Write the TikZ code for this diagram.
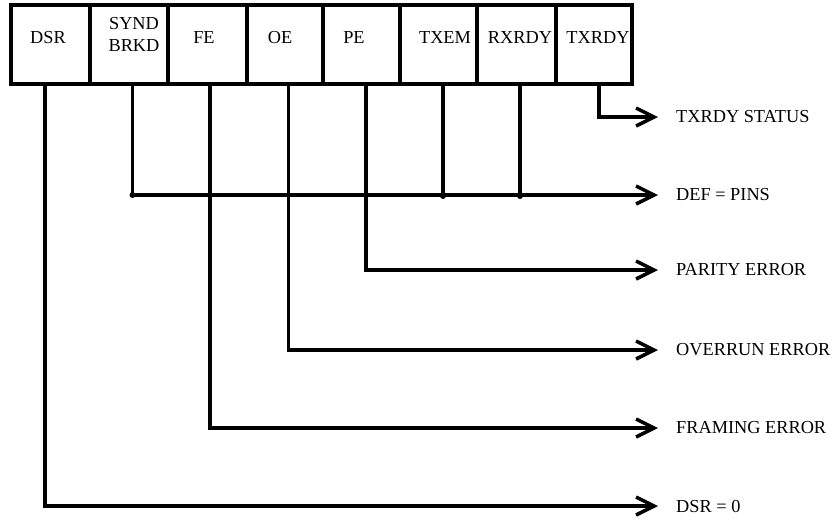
\documentclass[tikz,border=0pt]{standalone}
\usepackage{fontspec}
\setmainfont{Liberation Serif}
\usetikzlibrary{arrows.meta}
\begin{document}
\begin{tikzpicture}[x=1pt,y=-1pt,
  cell/.style={draw,line width=4pt,minimum width=#1,minimum height=79pt,inner sep=0pt,outer sep=0pt},
  celltext/.style={inner sep=0pt,align=center,font=\fontsize{18.3}{22}\selectfont},
  outlabel/.style={anchor=west,inner sep=0pt,font=\fontsize{18.3}{22}\selectfont},
  wire/.style={line width=3.5pt},
  flag/.style={wire,-{Straight Barb[length=18pt,width=18pt]},shorten >=18pt},
  junction/.style={fill,circle,inner sep=0pt,minimum size=6pt}]
\useasboundingbox (0,0) rectangle (839,523);

% status register cells
\node[cell=79pt] (dsr)   at (50.5,44.5) {};
\node[cell=78pt] (synd)  at (129,44.5)  {};
\node[cell=79pt] (fe)    at (207.5,44.5) {};
\node[cell=76pt] (oe)    at (285,44.5)  {};
\node[cell=77pt] (pe)    at (361.5,44.5) {};
\node[cell=77pt] (txem)  at (438.5,44.5) {};
\node[cell=79pt] (rxrdy) at (516.5,44.5) {};
\node[cell=76pt] (txrdy) at (594,44.5)  {};

% cell captions
\node[celltext] (dsr-t)   at (48,38)  {DSR};
\node[celltext] (synd-t)  at (134,34) {SYND\\BRKD};
\node[celltext] (fe-t)    at (204,38) {FE};
\node[celltext] (oe-t)    at (280,38) {OE};
\node[celltext] (pe-t)    at (354,38) {PE};
\node[celltext] (txem-t)  at (445,38) {TXEM};
\node[celltext] (rxrdy-t) at (520,38) {RXRDY};
\node[celltext] (txrdy-t) at (598,38) {TXRDY};

% meaning of each bit
\node[outlabel] (l-txrdy)  at (676,117) {TXRDY STATUS};
\node[outlabel] (l-def)    at (676,195) {DEF = PINS};
\node[outlabel] (l-parity) at (676,270) {PARITY ERROR};
\node[outlabel] (l-over)   at (676,350) {OVERRUN ERROR};
\node[outlabel] (l-frame)  at (676,428) {FRAMING ERROR};
\node[outlabel] (l-dsr)    at (676,506) {DSR = 0};

% tap points under the cells
\coordinate (p-dsr)   at ([xshift=-5.5pt]dsr.south);
\coordinate (p-synd)  at ([xshift=3.5pt]synd.south);
\coordinate (p-fe)    at ([xshift=2.5pt]fe.south);
\coordinate (p-oe)    at ([xshift=3.5pt]oe.south);
\coordinate (p-pe)    at ([xshift=4.5pt]pe.south);
\coordinate (p-txem)  at ([xshift=4.5pt]txem.south);
\coordinate (p-rxrdy) at ([xshift=3.5pt]rxrdy.south);
\coordinate (p-txrdy) at ([xshift=5pt]txrdy.south);

% connectors
\draw[flag] (p-txrdy) |- (l-txrdy.west);
\draw[flag] (p-synd)  |- (l-def.west);
\draw[wire] (p-txem)  -- (p-txem |- l-def.west);
\draw[wire] (p-rxrdy) -- (p-rxrdy |- l-def.west);
\draw[flag] (p-pe)    |- (l-parity.west);
\draw[flag] (p-oe)    |- (l-over.west);
\draw[flag] (p-fe)    |- (l-frame.west);
\draw[flag] (p-dsr)   |- (l-dsr.west);

% joints on the shared line
\node[junction] (j-synd)  at (p-synd |- l-def.west) {};
\node[junction] (j-txem)  at ([yshift=-1pt]p-txem |- l-def.west) {};
\node[junction] (j-rxrdy) at ([yshift=-1pt]p-rxrdy |- l-def.west) {};
\end{tikzpicture}
\end{document}
